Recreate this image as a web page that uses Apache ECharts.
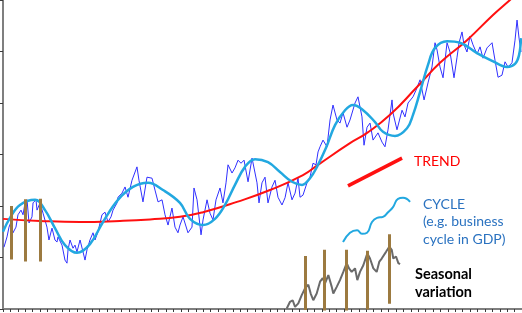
<!DOCTYPE html>
<html><head><meta charset="utf-8">
<script src="https://cdn.jsdelivr.net/npm/echarts@6/dist/echarts.min.js"></script>
<style>html,body{margin:0;padding:0;background:#fff}#c{width:522px;height:313px}</style>
</head><body><div id="c"></div>
<script>
// Observed series (time on x, level on y)
const blueX = [0.13,0.54,0.81,1.08,1.35,1.75,2.02,2.43,2.70,2.97,3.24,3.51,3.91,4.05,4.45,4.59,4.99,5.40,5.93,6.20,6.61,7.01,7.28,7.42,7.96,8.36,8.63,8.77,9.04,9.44,9.71,9.98,10.39,10.79,11.06,11.33,11.73,12.14,12.41,12.81,13.35,13.76,14.16,14.57,14.84,15.38,15.51,16.05,16.46,16.86,17.40,18.07,18.34,18.88,19.42,20.10,20.50,20.91,21.45,21.85,22.26,22.79,23.20,23.60,23.87,24.28,24.95,25.49,25.76,26.17,26.71,26.98,27.52,27.92,28.32,28.73,29.27,29.67,30.08,30.35,30.89,31.29,31.70,32.10,32.51,33.05,33.59,34.26,34.53,34.93,35.34,35.74,36.28,36.69,37.09,37.63,38.04,38.44,38.98,39.39,39.79,40.06,40.46,41.00,41.41,41.81,42.22,42.49,42.76,43.16,43.70,44.11,44.51,45.05,45.45,45.86,46.40,46.80,47.48,47.88,48.42,48.69,49.10,49.50,49.91,50.58,51.12,51.52,51.93,52.47,52.60,53.14,53.82,54.22,54.63,55.30,55.71,56.25,56.79,57.32,57.86,58.27,58.54,58.94,59.35,59.89,60.29,60.83,61.24,61.51,61.91,62.18,62.58,62.99,63.39,63.93,64.34,64.74,65.28,65.96,66.36,66.77,67.30,67.71,68.11,68.65,69.06,69.33,69.60,69.87];
const blueY = [1.20,1.40,1.59,1.69,1.48,1.59,1.83,1.92,1.83,2.06,2.12,1.67,1.79,2.06,2.12,1.92,2.06,1.86,1.59,1.34,1.57,1.34,1.30,1.40,1.24,0.95,0.89,1.15,1.34,1.18,1.24,1.11,1.34,1.11,0.95,1.15,1.34,1.48,1.34,1.50,1.83,1.88,1.69,1.79,1.92,2.06,2.17,2.25,2.37,2.17,2.50,2.76,2.50,2.08,2.56,2.54,2.31,2.08,2.12,1.83,1.63,1.96,1.59,1.48,1.63,1.79,1.48,1.59,2.35,2.12,1.44,1.73,2.12,1.86,1.73,2.12,2.35,2.06,2.45,2.80,2.64,2.74,2.89,2.83,2.89,2.47,2.93,2.45,2.06,2.45,2.56,2.06,2.37,2.50,2.17,2.02,2.16,2.45,2.12,2.25,2.54,2.17,2.21,2.45,2.56,2.83,2.80,3.05,3.15,3.28,3.15,3.67,3.96,3.67,3.61,3.81,3.53,3.67,4.00,4.12,3.73,3.18,3.53,3.61,3.28,3.42,3.24,3.15,3.48,4.06,3.81,3.48,3.86,3.73,4.00,4.12,4.25,4.45,4.06,4.39,4.70,5.17,5.03,4.70,4.49,5.17,4.99,4.49,4.89,5.17,5.38,5.13,4.99,5.30,5.13,4.95,5.09,4.87,5.07,5.17,4.83,4.50,4.54,4.80,4.70,4.78,5.22,5.61,5.26,4.99];

// Cycle component
const cycleX = [0,0.94,2.29,4.32,5.67,7.01,8.36,9.98,11.73,13.49,15.51,17.53,19.56,21.58,23.87,25.22,26.98,28.59,29.94,31.29,32.64,33.99,35.74,37.36,38.98,40.33,41.41,42.35,43.57,44.78,46.13,47.21,48.42,50.18,51.25,52.87,54.49,55.30,56.24,57.32,58.27,59.89,61.64,63.93,65.96,67.98,69.06,69.60,69.87];
const cycleY = [1.50,1.77,2.02,2.12,1.92,1.57,1.24,1.09,1.26,1.69,2.12,2.37,2.45,2.31,2.06,1.75,1.63,1.75,2.02,2.41,2.76,2.91,2.85,2.66,2.47,2.41,2.54,2.76,3.13,3.57,3.86,3.96,3.88,3.63,3.44,3.36,3.51,3.77,4.21,4.74,5.07,5.20,5.17,4.97,4.82,4.70,4.76,4.93,5.26];

// Trend component
const trendX = [0,4.99,10.39,15.78,19.83,23.87,26.98,31.56,36.01,40.46,42.49,46.80,49.10,52.20,55.84,58.94,62.58,66.09,68.38,70];
const trendY = [1.75,1.71,1.69,1.71,1.74,1.79,1.88,2.08,2.31,2.60,2.80,3.22,3.42,3.77,4.31,4.78,5.22,5.71,6.00,6.21];

// Legend sketches
const keyTrendX = [46.53,53.82];
const keyTrendY = [2.39,2.93];
const keyCycleX = [45.86,46.80,47.75,48.42,49.10,49.77,50.45,51.25,51.93,52.60,53.28,53.95,54.90];
const keyCycleY = [1.30,1.48,1.53,1.46,1.48,1.69,1.77,1.79,1.88,1.98,2.14,2.16,2.08];
const keySeasonX = [38.27,38.71,39.07,39.39,39.83,40.29,40.73,41.18,41.50,41.85,42.31,42.76,43.12,43.43,43.88,44.34,44.55,45.01,45.45,45.90,46.36,46.67,47.03,47.48,47.79,48.15,48.60,49.14,49.50,49.95,50.40,50.76,51.08,51.66,52.10,52.43,52.64,53.01,53.32,53.55];
const keySeasonY = [0.01,0.14,0.17,0.04,0.11,0.27,0.40,0.47,0.30,0.17,0.30,0.53,0.60,0.50,0.66,0.43,0.30,0.43,0.56,0.72,0.89,0.79,0.72,0.79,0.56,0.72,0.85,1.08,0.98,0.79,0.72,0.92,0.98,1.11,1.21,1.15,0.98,1.02,0.89,0.87];

// Seasonal markers (vertical bars)
const markX = [1.17,3.06,4.99,40.83,43.30,46.26,49.19,52.10];
const markTop = [2.00,2.13,2.14,1.03,1.15,1.15,1.13,1.45];
const markBottom = [0.96,0.92,0.92,-0.02,-0.05,-0.05,-0.01,0.10];

const labelTrend = 'TREND';
const labelCycle = ['CYCLE', '(e.g. business', 'cycle in GDP)'];
const labelSeason = ['Seasonal', 'variation'];

const zip = (a, b) => a.map((v, i) => [v, b[i]]);
const chart = echarts.init(document.getElementById('c'), null, {renderer: 'canvas'});
const axisCommon = {
  axisLine: {show: true, onZero: false, lineStyle: {color: '#7f7f7f', width: 2}},
  axisTick: {show: true, length: 3, lineStyle: {color: '#3a3a3a', width: 1}},
  axisLabel: {show: false},
  splitLine: {show: false}
};
const lineBase = {type: 'line', showSymbol: false, symbol: 'none', silent: true};
const FONT = 'Lato, "Open Sans", sans-serif';

chart.setOption({
  animation: false,
  grid: {left: 3, right: 0, top: 0, bottom: 4},
  xAxis: Object.assign({type: 'value', min: 0, max: 70, interval: 1}, axisCommon),
  yAxis: Object.assign({type: 'value', min: 0, max: 6, interval: 1}, axisCommon),
  series: [
    Object.assign({}, lineBase, {name: 'data', data: zip(blueX, blueY), z: 2,
      lineStyle: {color: '#3030ff', width: 1}}),
    Object.assign({}, lineBase, {name: 'trend', data: zip(trendX, trendY), smooth: true, z: 3,
      lineStyle: {color: '#ff1010', width: 2}}),
    Object.assign({}, lineBase, {name: 'cycle', data: zip(cycleX, cycleY), smooth: 0.4, z: 4,
      lineStyle: {color: '#22a8e0', width: 2.5}}),
    Object.assign({}, lineBase, {name: 'keyTrend', data: zip(keyTrendX, keyTrendY), z: 4,
      lineStyle: {color: '#ff1010', width: 3.5}}),
    Object.assign({}, lineBase, {name: 'keyCycle', data: zip(keyCycleX, keyCycleY), smooth: true, z: 4,
      lineStyle: {color: '#22a8e0', width: 2}}),
    Object.assign({}, lineBase, {name: 'keySeason', data: zip(keySeasonX, keySeasonY), z: 4,
      lineStyle: {color: '#6a6a6a', width: 2}}),
    {type: 'lines', coordinateSystem: 'cartesian2d', silent: true, z: 5,
      data: markX.map((x, i) => ({coords: [[x, markBottom[i]], [x, markTop[i]]]})),
      lineStyle: {color: '#9c7a40', width: 3, opacity: 1, curveness: 0}}
  ],
  graphic: [
    {type: 'text', x: 414, y: 161.5, silent: true,
      style: {text: labelTrend, fill: '#ff0000', font: '14px ' + FONT, verticalAlign: 'middle'}},
    {type: 'text', x: 423, y: 204.5, silent: true,
      style: {text: labelCycle[0], fill: '#2a72c0', font: '14px ' + FONT, verticalAlign: 'middle'}},
    {type: 'text', x: 423, y: 221.5, silent: true,
      style: {text: labelCycle[1], fill: '#2a72c0', font: '14px ' + FONT, verticalAlign: 'middle'}},
    {type: 'text', x: 423, y: 239.5, silent: true,
      style: {text: labelCycle[2], fill: '#2a72c0', font: '14px ' + FONT, verticalAlign: 'middle'}},
    {type: 'text', x: 415, y: 274.5, silent: true,
      style: {text: labelSeason[0], fill: '#000000', font: 'bold 14.5px ' + FONT, verticalAlign: 'middle'}},
    {type: 'text', x: 415, y: 292.5, silent: true,
      style: {text: labelSeason[1], fill: '#000000', font: 'bold 14.5px ' + FONT, verticalAlign: 'middle'}}
  ]
});
</script>
</body></html>
